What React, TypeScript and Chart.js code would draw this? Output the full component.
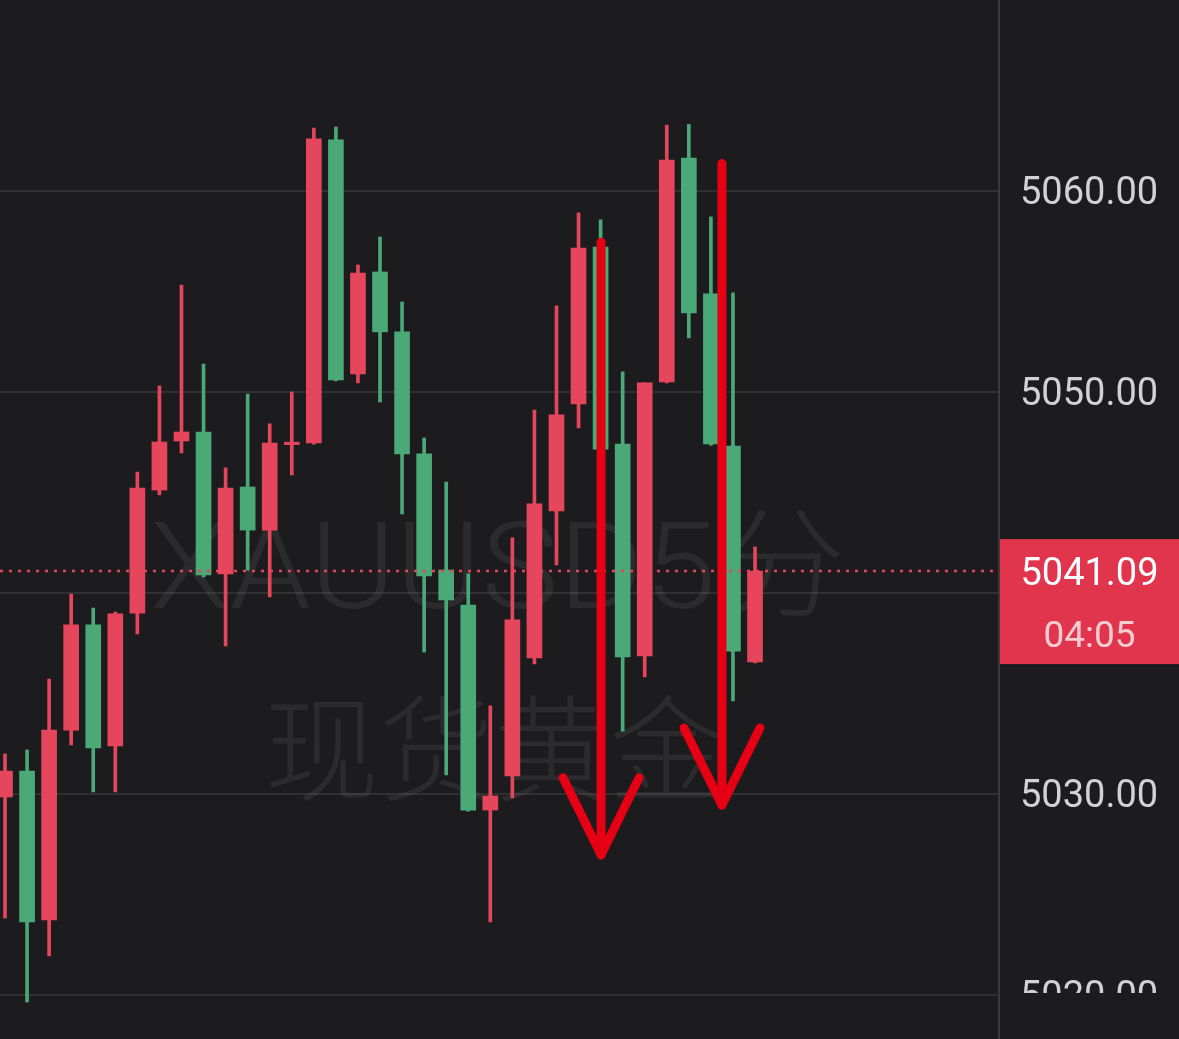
import React, { useEffect, useRef } from 'react';
import { Chart, registerables } from 'chart.js';

Chart.register(...registerables);

// ---- data (5-minute XAUUSD candles) ----
const OPEN = [5029.85, 5031.14, 5023.73, 5033.18, 5038.41, 5032.39, 5039.0, 5045.12, 5047.56, 5048.01, 5040.95, 5045.27, 5043.13, 5047.38, 5047.46, 5062.54, 5050.9, 5055.97, 5052.99, 5046.92, 5041.14, 5039.4, 5029.2, 5030.9, 5036.77, 5044.08, 5049.4, 5057.21, 5047.41, 5036.87, 5050.5, 5061.64, 5054.88, 5047.31, 5036.57];
const HIGH = [5031.99, 5032.19, 5035.72, 5039.95, 5039.25, 5039.05, 5046.02, 5050.3, 5055.32, 5051.39, 5046.22, 5049.9, 5048.41, 5050.0, 5063.13, 5063.18, 5056.32, 5057.71, 5054.48, 5047.71, 5045.52, 5040.95, 5034.38, 5042.74, 5049.1, 5054.28, 5058.91, 5058.56, 5051.0, 5050.45, 5063.28, 5063.31, 5058.71, 5054.93, 5042.29];
const LOW = [5023.83, 5019.65, 5021.94, 5032.44, 5030.1, 5030.1, 5037.96, 5044.88, 5046.97, 5040.8, 5037.36, 5041.14, 5039.8, 5045.87, 5047.4, 5050.55, 5050.45, 5049.5, 5043.93, 5037.06, 5030.95, 5029.15, 5023.63, 5029.8, 5036.47, 5041.39, 5048.21, 5047.1, 5033.13, 5035.82, 5050.45, 5052.69, 5047.35, 5034.63, 5036.52];
const CLOSE = [5031.14, 5023.63, 5033.18, 5038.41, 5032.29, 5038.96, 5045.22, 5047.51, 5048.01, 5040.9, 5045.22, 5043.13, 5047.46, 5047.5, 5062.59, 5050.6, 5055.92, 5052.99, 5046.92, 5040.85, 5039.65, 5029.2, 5029.9, 5038.66, 5044.43, 5048.86, 5057.16, 5047.16, 5036.82, 5050.45, 5061.54, 5053.93, 5047.41, 5037.11, 5041.09];

const Y_TICKS = [5020, 5030, 5040, 5050, 5060];
const Y_MIN = 5017.81;
const Y_MAX = 5069.5;
const X_MIN = -0.227;
const X_MAX = 45.06;

const LAST_PRICE = 5041.09;
const COUNTDOWN = '04:05';
const WATERMARK_LINE1 = 'XAUUSD5分';
const WATERMARK_LINE2 = '现货黄金';

// hand-drawn annotation arrows (candle index, start price, tip price)
const ARROW_INDEX = [27.02, 32.5];
const ARROW_FROM = [5057.45, 5061.36];
const ARROW_TO = [5026.97, 5029.45];

// ---- styles ----
const BG = '#1c1c1e';
const UP = '#e5465b';
const DOWN = '#4aa977';
const GRID = '#303032';
const AXIS_LINE = '#3a3a3c';
const LABEL = '#d2d2d6';
const BOX = '#e1344d';
const ARROW_RED = '#e50014';

const decorPlugin = {
  id: 'decor',
  beforeDraw(chart: any) {
    const { ctx, width, height } = chart;
    ctx.save();
    ctx.fillStyle = BG;
    ctx.fillRect(0, 0, width, height);
    ctx.restore();
  },
  beforeDatasetsDraw(chart: any) {
    const { ctx } = chart;
    ctx.save();
    ctx.fillStyle = 'rgba(255,255,255,0.065)';
    ctx.textAlign = 'left';
    ctx.textBaseline = 'alphabetic';
    ctx.font = '300 120px Roboto, "Noto Sans CJK SC"';
    const w1 = ctx.measureText(WATERMARK_LINE1).width;
    ctx.save();
    ctx.translate(150, 608);
    ctx.scale(696 / w1, 1);
    ctx.fillText(WATERMARK_LINE1, 0, 0);
    ctx.restore();
    ctx.font = '300 115px "Noto Sans CJK SC"';
    ctx.textAlign = 'center';
    ctx.textBaseline = 'middle';
    ctx.fillText(WATERMARK_LINE2, 494, 748);
    ctx.restore();
  },
  afterDatasetsDraw(chart: any) {
    const { ctx, chartArea, scales } = chart;
    const y = scales.y;
    const x = scales.x;
    ctx.save();
    // last price dotted line
    const py = y.getPixelForValue(LAST_PRICE);
    ctx.strokeStyle = UP;
    ctx.lineWidth = 2.5;
    ctx.setLineDash([3, 6]);
    ctx.beginPath();
    ctx.moveTo(chartArea.left, py);
    ctx.lineTo(chartArea.right, py);
    ctx.stroke();
    ctx.setLineDash([]);
    // arrows
    ctx.strokeStyle = ARROW_RED;
    ctx.lineWidth = 9;
    ctx.lineCap = 'round';
    ctx.lineJoin = 'round';
    ARROW_INDEX.forEach((idx, i) => {
      const ax = x.getPixelForValue(idx);
      const y0 = y.getPixelForValue(ARROW_FROM[i]);
      const y1 = y.getPixelForValue(ARROW_TO[i]);
      ctx.beginPath();
      ctx.moveTo(ax, y0);
      ctx.lineTo(ax, y1);
      ctx.stroke();
      ctx.beginPath();
      ctx.moveTo(ax - 38, y1 - 77);
      ctx.lineTo(ax, y1);
      ctx.lineTo(ax + 38, y1 - 77);
      ctx.stroke();
    });
    ctx.restore();
  },
  afterDraw(chart: any) {
    const { ctx, chartArea, scales, width, height } = chart;
    const y = scales.y;
    ctx.save();
    // bottom label is mostly hidden in the source screenshot
    const by = y.getPixelForValue(Y_TICKS[0]) - 2;
    ctx.fillStyle = BG;
    ctx.fillRect(chartArea.right + 2, by, width - chartArea.right - 2, height - by);
    // last price box
    const py = y.getPixelForValue(LAST_PRICE);
    const bx = chartArea.right + 1;
    ctx.fillStyle = BOX;
    ctx.fillRect(bx, py - 32, width - bx, 125);
    const cx = (bx + width) / 2;
    ctx.textAlign = 'center';
    ctx.textBaseline = 'middle';
    ctx.font = '38px Roboto';
    ctx.fillStyle = '#ffffff';
    ctx.fillText(LAST_PRICE.toFixed(2), cx, py + 4);
    ctx.fillStyle = '#f7cdd2';
    ctx.font = '37px Roboto';
    ctx.fillText(COUNTDOWN, cx, py + 67);
    ctx.restore();
  },
};

export default function App() {
  const ref = useRef<HTMLCanvasElement | null>(null);

  useEffect(() => {
    document.body.style.margin = '0';
    document.body.style.background = BG;
    const canvas = ref.current;
    if (!canvas) return;
    const colors = CLOSE.map((c, i) => (c >= OPEN[i] ? UP : DOWN));
    const chart = new Chart(canvas, {
      type: 'bar',
      data: {
        datasets: [
          {
            label: 'body',
            data: CLOSE.map((c, i) => ({ x: i, y: [OPEN[i], c] })) as any,
            backgroundColor: colors,
            barThickness: 15,
            grouped: false,
            borderWidth: 0,
            order: 0,
          } as any,
          {
            label: 'wick',
            data: HIGH.map((h, i) => ({ x: i, y: [LOW[i], h] })) as any,
            backgroundColor: colors,
            barThickness: 3,
            grouped: false,
            borderWidth: 0,
            order: 1,
          } as any,
        ],
      },
      options: {
        responsive: false,
        animation: false,
        events: [],
        layout: { padding: 0 },
        plugins: { legend: { display: false }, tooltip: { enabled: false } },
        scales: {
          x: {
            type: 'linear',
            min: X_MIN,
            max: X_MAX,
            offset: false,
            bounds: 'data',
            display: false,
            afterBuildTicks: (s: any) => {
              s.min = X_MIN;
              s.max = X_MAX;
            },
          },
          y: {
            type: 'linear',
            position: 'right',
            min: Y_MIN,
            max: Y_MAX,
            afterBuildTicks: (s: any) => {
              s.ticks = Y_TICKS.map((v) => ({ value: v }));
              s.min = Y_MIN;
              s.max = Y_MAX;
            },
            afterFit: (s: any) => {
              s.width = 180;
              s.paddingTop = 0;
              s.paddingBottom = 0;
            },
            grid: { color: GRID, lineWidth: 2, drawTicks: false },
            border: { display: true, color: AXIS_LINE, width: 2 },
            ticks: {
              color: LABEL,
              padding: 21,
              labelOffset: 4,
              font: { family: 'Roboto', size: 38 },
              callback: (v: any) => Number(v).toFixed(2),
            },
          },
        },
      } as any,
      plugins: [decorPlugin],
    });
    return () => chart.destroy();
  }, []);

  return (
    <div style={{ position: 'absolute', left: 0, top: 0, width: 1179, height: 1039 }}>
      <canvas ref={ref} width={1179} height={1039} />
    </div>
  );
}
